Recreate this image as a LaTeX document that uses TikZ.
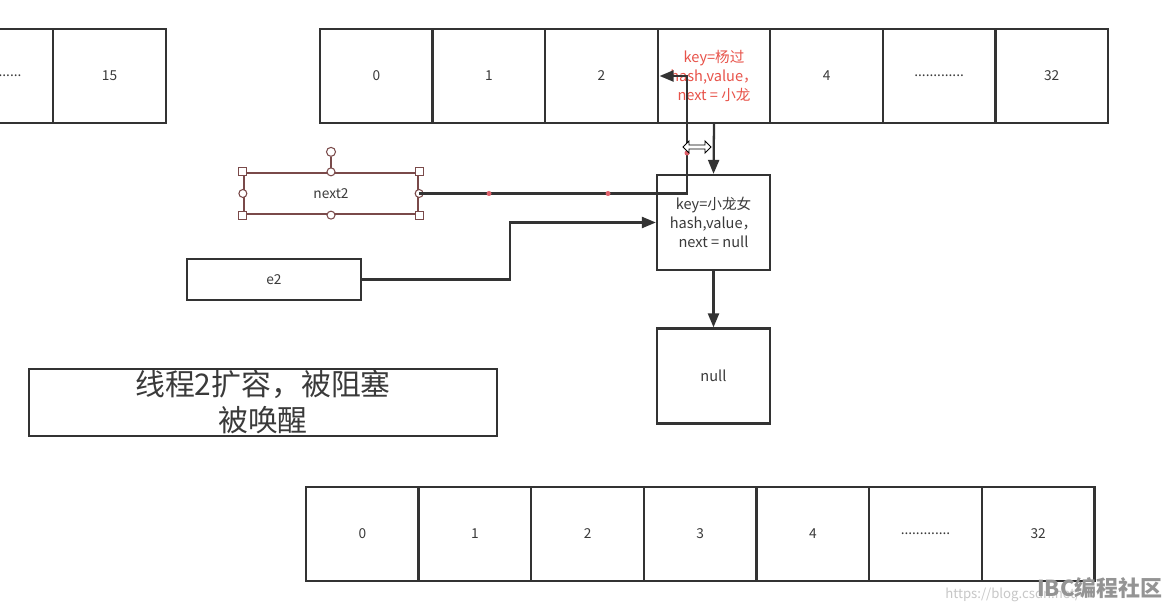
\documentclass[tikz,border=0pt]{standalone}
\usepackage{fontspec}
\setmainfont{Noto Sans CJK SC}
\usetikzlibrary{arrows.meta}

\begin{document}
\begin{tikzpicture}[x=0.02cm, y=-0.02cm,
    cell/.style={draw=linegray, line width=1.3pt, minimum width=2.252cm, minimum height=1.88cm,
        inner sep=0pt, align=center, text=textgray, font=\fontsize{7.8}{9.5}\selectfont},
    entry/.style={cell, minimum width=2.26cm, minimum height=1.9cm, font=\fontsize{8.3}{10.8}\selectfont},
    pointer/.style={draw=linegray, line width=1.3pt, minimum width=3.48cm, minimum height=0.82cm,
        inner sep=0pt, text=textgray, font=\fontsize{7.8}{9.5}\selectfont},
    link/.style={draw=linegray, line width=1.3pt, -{Triangle[length=0.28cm, width=0.22cm]}},
    handle/.style={draw=selbrown, fill=white, line width=0.6pt}]
    \definecolor{linegray}{HTML}{333333}
    \definecolor{textgray}{HTML}{3A3A3A}
    \definecolor{redtext}{HTML}{E8534A}
    \definecolor{selbrown}{HTML}{7A4A4A}
    \definecolor{waypoint}{HTML}{E0606A}

    \useasboundingbox[fill=white] (0,0) rectangle (1169,614);

    % old table (cut at the left)
    \node[cell] (o14) at (-3.3,76) {.............};
    \node[cell] (o15) at (109.5,76) {15};

    % new table, top
    \node[cell] (t0) at (376.3,76) {0};
    \node[cell] (t1) at (488.9,76) {1};
    \node[cell] (t2) at (601.4,76) {2};
    \node[cell, text=redtext, font=\fontsize{8.3}{10.8}\selectfont] (t3) at (714.0,76) {key=杨过\\hash,value，\\next = 小龙};
    \node[cell] (t4) at (826.6,76) {4};
    \node[cell] (t5) at (939.1,76) {.............};
    \node[cell] (t32) at (1051.7,76) {32};

    % chain entries
    \node[entry] (xln) at (713.5,222.5) {key=小龙女\\hash,value，\\next = null};
    \node[entry] (null) at (713.5,376) {null};

    % thread pointers
    \node[pointer, draw=selbrown] (next2) at (331,193.5) {next2};
    \node[pointer] (e2) at (274,279.5) {e2};

    % selection handles on next2
    \draw[draw=selbrown, line width=0.6pt] (next2.north) -- ++(0,-15);
    \draw[handle] ([yshift=0.4cm]next2.north) circle[radius=0.09cm];
    \foreach \a in {north west, north east, south west, south east}
        \draw[handle] ([xshift=-0.08cm, yshift=-0.08cm]next2.\a) rectangle ++(0.16cm,0.16cm);
    \foreach \a in {north, south, west, east}
        \draw[handle] (next2.\a) circle[radius=0.08cm];

    % note
    \node[draw=linegray, line width=1.3pt, minimum width=9.36cm, minimum height=1.34cm, inner sep=0pt,
        align=center, text=textgray, font=\fontsize{17}{20.5}\selectfont] (note) at (263,402.5)
        {线程2扩容，被阻塞\\被唤醒};

    % new table, bottom
    \node[cell] (b0) at (362.3,534) {0};
    \node[cell] (b1) at (474.9,534) {1};
    \node[cell] (b2) at (587.6,534) {2};
    \node[cell] (b3) at (700.2,534) {3};
    \node[cell] (b4) at (812.9,534) {4};
    \node[cell] (b5) at (925.5,534) {.............};
    \node[cell] (b32) at (1038.2,534) {32};

    % links
    \coordinate (hook) at (687,76);
    \coordinate (e2bend) at (510,222.5);
    \draw[link] (t3.south) -- (xln.north);
    \draw[link] (xln.south) -- (null.north);
    \draw[link] (next2.east) -| (hook) -- ([xshift=0.06cm]t3.west);
    \draw[link] (e2.east) -| (e2bend) -- (xln.west);

    % waypoints
    \fill[waypoint] (489,193.5) circle[radius=0.05cm];
    \fill[waypoint] (608,193.5) circle[radius=0.05cm];
    \fill[waypoint] (687,153) circle[radius=0.05cm];

    % resize cursor
    \draw[fill=white, line width=0.5pt, shift={(697,147)}]
        (-14,0) -- (-8,-6) -- (-8,-2) -- (8,-2) -- (8,-6) -- (14,0) -- (8,6) -- (8,2) -- (-8,2) -- (-8,6) -- cycle;

    % watermark
    \node[anchor=west, inner sep=0pt, text=black!22, font=\fontsize{7.5}{9}\selectfont] (url) at (945,595) {https://blog.csdn.net/};
    \node[anchor=east, inner sep=0pt, text=black!42, font=\bfseries\fontsize{12.5}{14}\selectfont] (logo) at (1163,588) {IBC编程社区};
\end{tikzpicture}
\end{document}
